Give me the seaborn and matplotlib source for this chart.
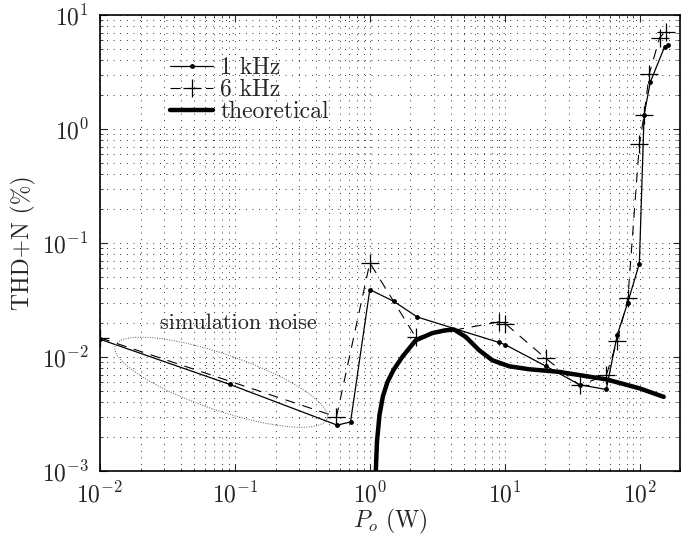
import numpy as np
import pandas as pd
import matplotlib
matplotlib.use('Agg')
import matplotlib.pyplot as plt
import seaborn as sns

# measured THD+N, 1 kHz
p_1k = [0.01, 0.092, 0.573, 0.72, 1.0, 1.51, 2.25, 9.07, 10.1, 20.2, 35.9, 56.6,
        68.2, 81.5, 99.6, 108, 120, 153, 162]
thd_1k = [0.0143, 0.00573, 0.00252, 0.00269, 0.039, 0.0307, 0.0224, 0.0134, 0.0128,
          0.0083, 0.0057, 0.00518, 0.0155, 0.0298, 0.066, 1.335, 2.58, 5.25, 5.5]

# measured THD+N, 6 kHz
p_6k = [0.01, 0.566, 1.0, 2.19, 9.07, 10.1, 20.2, 35.9, 56.6, 68.2, 81.9, 99.6,
        108, 118, 141, 156]
thd_6k = [0.0147, 0.00298, 0.067, 0.0149, 0.0203, 0.0196, 0.0097, 0.00565, 0.0069,
          0.0138, 0.0329, 0.738, 1.335, 3.06, 6.36, 7.18]

# theoretical curve
p_th = [1.10, 1.13, 1.18, 1.25, 1.35, 1.5, 1.74, 2.19, 2.91, 3.6, 4.21, 5.14, 6.46,
        8.1, 10.8, 15.1, 25.2, 56.2, 100, 151]
thd_th = [0.0008, 0.0018, 0.0031, 0.0045, 0.0060, 0.0077, 0.0100, 0.0140, 0.0162,
          0.0171, 0.0174, 0.0150, 0.01146, 0.00935, 0.00828, 0.0078, 0.0074, 0.00637,
          0.0053, 0.00446]

sns.set_style('ticks')
plt.rcParams['font.family'] = 'serif'
plt.rcParams['font.serif'] = ['cmr10', 'DejaVu Serif']
plt.rcParams['mathtext.fontset'] = 'cm'
plt.rcParams['axes.formatter.use_mathtext'] = True
plt.rcParams['axes.unicode_minus'] = False

fig = plt.figure(figsize=(6.85, 5.4), dpi=100)
ax = fig.add_axes([0.146, 0.128, 0.847, 0.844])

sns.lineplot(x=p_1k, y=thd_1k, ax=ax, color='k', lw=0.9, marker='o', markersize=3.5,
             markeredgewidth=0, markerfacecolor='k', label='1 kHz', sort=False,
             estimator=None)
sns.lineplot(x=p_6k, y=thd_6k, ax=ax, color='k', lw=0.8, marker='+', markersize=13,
             markeredgewidth=0.9, markeredgecolor='k', linestyle=(0, (9, 7)),
             label='6 kHz', sort=False, estimator=None)
sns.lineplot(x=p_th, y=thd_th, ax=ax, color='k', lw=3.2, label='theoretical',
             sort=False, estimator=None)

ax.set_xscale('log')
ax.set_yscale('log')
ax.set_xlim(1e-2, 2e2)
ax.set_ylim(1e-3, 1e1)

ax.grid(True, which='both', color='k', linestyle=(0, (0.8, 6)), linewidth=0.7)
ax.tick_params(which='both', direction='in', top=True, right=True, labelsize=17)
ax.tick_params(axis='x', which='both', pad=8)
ax.tick_params(axis='y', which='both', pad=8)
ax.tick_params(which='major', length=5)
ax.tick_params(which='minor', length=2.5)
for s in ax.spines.values():
    s.set_linewidth(1.2)
    s.set_color('k')

ax.set_xlabel(r'$P_o$ (W)', fontsize=17, labelpad=0)
ax.set_ylabel('THD+N (%)', fontsize=17, labelpad=4)

# "simulation noise" ellipse, drawn in axes-pixel space so the tilt holds
W, H = 580.0, 456.0
cx, cy = (221 - 100) / W, (470.7 - 382) / H
a, b, th = 112.0, 28.0, np.deg2rad(-19)
t = np.linspace(0, 2 * np.pi, 200)
ex = cx + (a * np.cos(t) * np.cos(th) - b * np.sin(t) * np.sin(th)) / W
ey = cy + (a * np.cos(t) * np.sin(th) + b * np.sin(t) * np.cos(th)) / H
ax.plot(ex, ey, transform=ax.transAxes, color='0.35', lw=0.7, linestyle=(0, (1, 1.5)))
ax.text((238 - 100) / W, (470.7 - 323) / H, 'simulation noise', transform=ax.transAxes,
        ha='center', va='center', fontsize=16)

ax.legend(loc='upper left', bbox_to_anchor=(0.093, 0.945), frameon=False, fontsize=17,
          handlelength=1.8, handletextpad=0.3, labelspacing=0.0, borderpad=0.2)

fig.savefig('out.png', dpi=100)
